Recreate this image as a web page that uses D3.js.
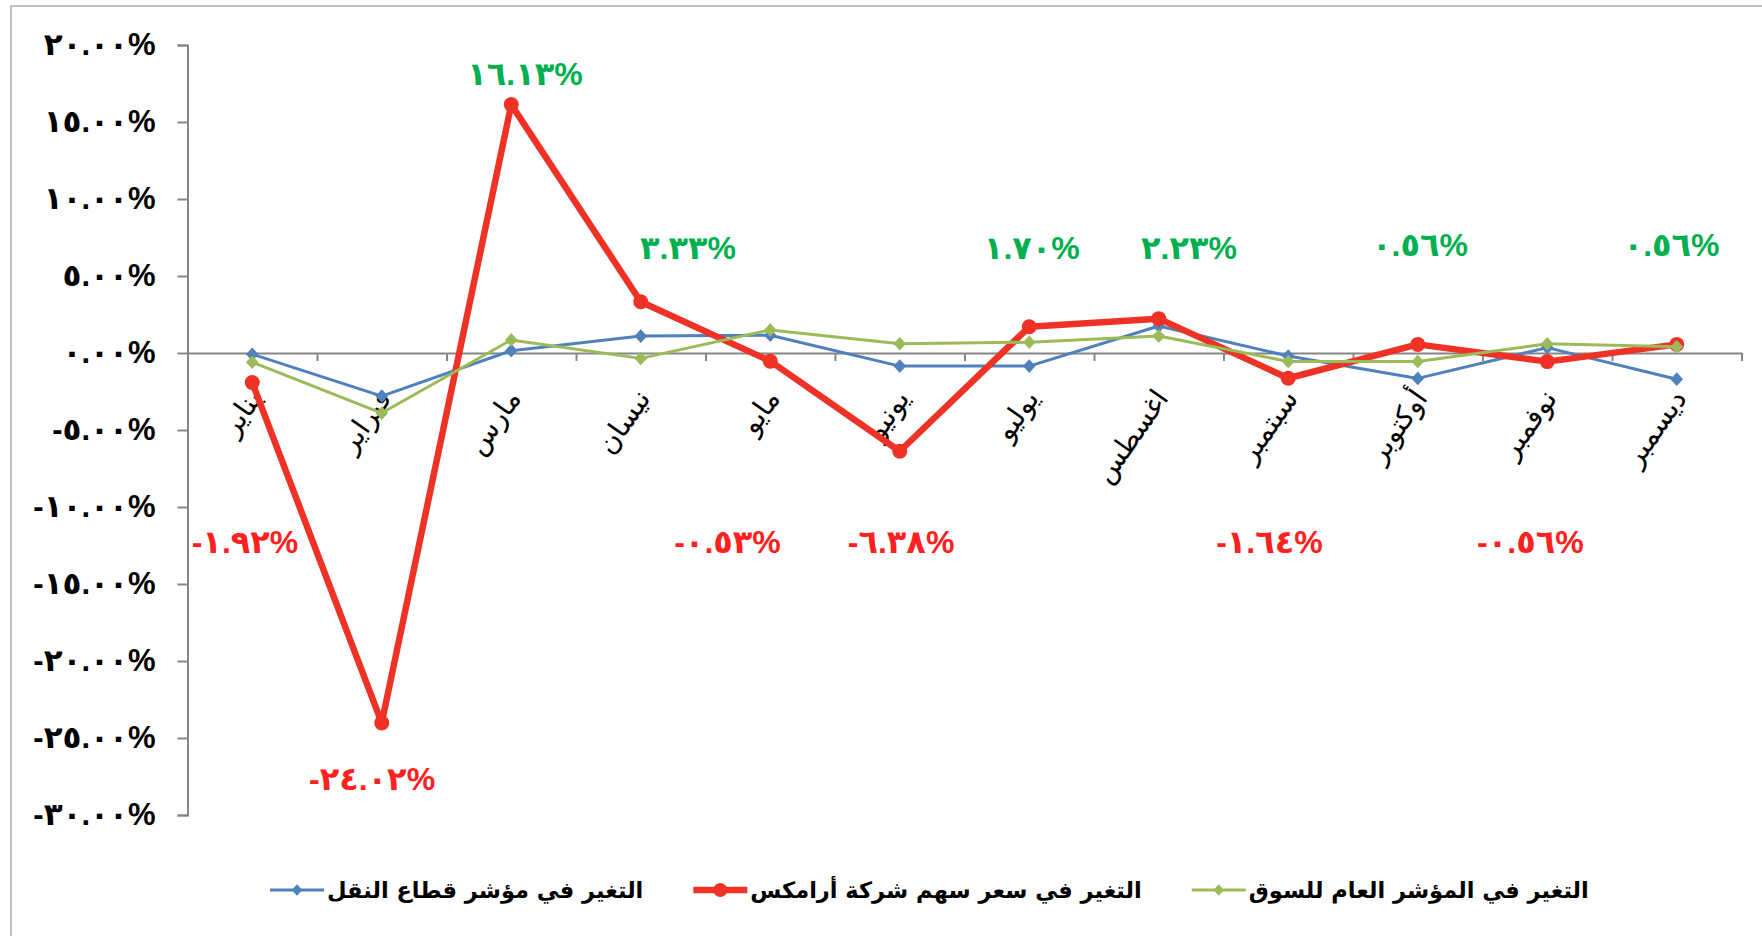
<!DOCTYPE html>
<html><head><meta charset="utf-8">
<script src="https://cdn.jsdelivr.net/npm/d3@7"></script>
<style>html,body{margin:0;padding:0;background:#fff;overflow:hidden}</style>
</head><body>
<svg id="chart" width="1762" height="936"></svg>
<script>
// ---------- data ----------
const months = ["يناير","فبراير","مارس","نيسان","مايو","يونيو","يوليو","اغسطس","سبتمبر","أوكتوبر","نوفمبر","ديسمبر"];
const transportIndex = [-0.08, -2.8, 0.15, 1.1, 1.15, -0.85, -0.85, 1.75, -0.2, -1.65, 0.35, -1.7];
const aramexPrice   = [-1.92, -24.02, 16.13, 3.33, -0.53, -6.38, 1.70, 2.23, -1.64, 0.56, -0.56, 0.56];
const marketIndex   = [-0.6, -3.9, 0.85, -0.35, 1.5, 0.6, 0.7, 1.1, -0.55, -0.55, 0.6, 0.4];
const yTicks = [20, 15, 10, 5, 0, -5, -10, -15, -20, -25, -30];
const seriesNames = ["التغير في مؤشر قطاع النقل", "التغير في سعر سهم شركة أرامكس", "التغير في المؤشر العام للسوق"];
// data label anchors (value-space): horizontal shift in category units, baseline level in %
const labelShift = [-0.056, -0.075, 0.106, 0.365, -0.33, 0.01, 0.02, 0.234, -0.145, 0.017, -0.13, -0.04];
const labelLevel = [-13.0, -28.4, 17.4, 6.1, -13.0, -13.0, 6.1, 6.1, -13.0, 6.3, -13.0, 6.3];

// ---------- setup ----------
const svg = d3.select("#chart");
const W = 1762, H = 936;
const plot = {left: 187.5, right: 1741.5, top: 45, bottom: 815};
const AR = "٠١٢٣٤٥٦٧٨٩";
const arDigits = s => s.replace(/[0-9]/g, d => AR[+d]);
const pct = v => arDigits(Number(v).toFixed(2)) + "%";

const x = d3.scaleBand().domain(d3.range(months.length)).range([plot.left, plot.right]).paddingInner(0).paddingOuter(0);
const xc = i => x(i) + x.bandwidth() / 2;
const y = d3.scaleLinear().domain([-30, 20]).range([plot.bottom, plot.top]);

const colors = {blue: "#4F81BD", red: "#EE3326", green: "#9BBB59"};

// outer frame
svg.append("rect").attr("x", 11).attr("y", 6).attr("width", W + 40).attr("height", H + 40)
  .attr("fill", "#fff").attr("stroke", "#BFBFBF").attr("stroke-width", 2);

// y axis
const yAxis = d3.axisLeft(y).tickValues(yTicks).tickSize(10).tickPadding(22).tickFormat(pct);
const gy = svg.append("g").attr("transform", `translate(${plot.left},0)`).call(yAxis);
gy.select(".domain").attr("stroke", "#868686").attr("stroke-width", 2);
gy.selectAll(".tick line").attr("stroke", "#868686").attr("stroke-width", 2);
gy.selectAll(".tick text")
  .attr("font-family", "'Liberation Sans', 'DejaVu Sans', sans-serif")
  .attr("font-weight", "bold").attr("font-size", 31).attr("fill", "#000")
  .style("direction", "ltr").style("unicode-bidi", "bidi-override");

// x axis (at zero) with category boundary ticks
const xb = d3.scaleLinear().domain([0, months.length]).range([plot.left, plot.right]);
const xAxis = d3.axisBottom(xb).tickValues(d3.range(months.length + 1)).tickSize(8).tickSizeOuter(0).tickFormat("");
const gx = svg.append("g").attr("transform", `translate(0,${y(0)})`).call(xAxis);
gx.select(".domain").attr("stroke", "#868686").attr("stroke-width", 2);
gx.selectAll(".tick line").attr("stroke", "#868686").attr("stroke-width", 2);

// month labels
svg.append("g").selectAll("text").data(months).join("text")
  .attr("transform", (d, i) => `translate(${xc(i) + 3},${y(0) + 40}) rotate(-55)`)
  .attr("text-anchor", "end").attr("dominant-baseline", "central")
  .attr("font-family", "'DejaVu Sans', sans-serif").attr("font-size", 28).attr("fill", "#000")
  .text(d => d);

// series
const diamond = {draw(ctx, size) { const h = Math.sqrt(size) / 2; ctx.moveTo(0, -h * 1.08); ctx.lineTo(h, 0); ctx.lineTo(0, h * 1.08); ctx.lineTo(-h, 0); ctx.closePath(); }};
const line = d3.line().x((d, i) => xc(i)).y(d => y(d));

function drawSeries(values, color, width, marker) {
  const g = svg.append("g");
  g.append("path").datum(values).attr("d", line).attr("fill", "none")
    .attr("stroke", color).attr("stroke-width", width).attr("stroke-linejoin", "round");
  if (marker === "circle") {
    g.selectAll("circle").data(values).join("circle")
      .attr("cx", (d, i) => xc(i)).attr("cy", d => y(d)).attr("r", 7.5).attr("fill", color);
  } else {
    g.selectAll("path.m").data(values).join("path").attr("class", "m")
      .attr("d", d3.symbol().type(diamond).size(160))
      .attr("transform", (d, i) => `translate(${xc(i)},${y(d)})`).attr("fill", color);
  }
}
drawSeries(transportIndex, colors.blue, 3, "diamond");
drawSeries(aramexPrice, colors.red, 6.5, "circle");
drawSeries(marketIndex, colors.green, 3, "diamond");

// data labels for aramex series
svg.append("g").selectAll("text").data(aramexPrice).join("text")
  .attr("x", (d, i) => xc(i) + labelShift[i] * x.bandwidth())
  .attr("y", (d, i) => y(labelLevel[i]))
  .attr("text-anchor", "middle")
  .attr("font-family", "'Liberation Sans', 'DejaVu Sans', sans-serif")
  .attr("font-size", 32).attr("font-weight", "bold")
  .attr("fill", d => d >= 0 ? "#00B050" : "#FF2020")
  .style("direction", "ltr").style("unicode-bidi", "bidi-override")
  .text(d => pct(d));

// legend
const legend = svg.append("g");
const legendColors = [colors.blue, colors.red, colors.green];
const legendMarkers = ["diamond", "circle", "diamond"];
const legendWidths = [3, 6.5, 3];
let lx = 270;
const ly = 890;
seriesNames.forEach((name, i) => {
  const g = legend.append("g");
  g.append("line").attr("x1", lx).attr("x2", lx + 54).attr("y1", ly).attr("y2", ly)
    .attr("stroke", legendColors[i]).attr("stroke-width", legendWidths[i]);
  if (legendMarkers[i] === "circle") {
    g.append("circle").attr("cx", lx + 27).attr("cy", ly).attr("r", 7).attr("fill", legendColors[i]);
  } else {
    g.append("path").attr("d", d3.symbol().type(diamond).size(110)).attr("transform", `translate(${lx + 27},${ly})`).attr("fill", legendColors[i]);
  }
  const t = g.append("text").attr("x", lx + 57).attr("y", ly).attr("dominant-baseline", "central")
    .attr("font-family", "'DejaVu Sans', sans-serif").attr("font-weight", "bold").attr("font-size", 22.5)
    .attr("fill", "#000").text(name);
  const w = t.node().getComputedTextLength();
  lx = lx + 57 + w + 50;
});
</script>
</body></html>
